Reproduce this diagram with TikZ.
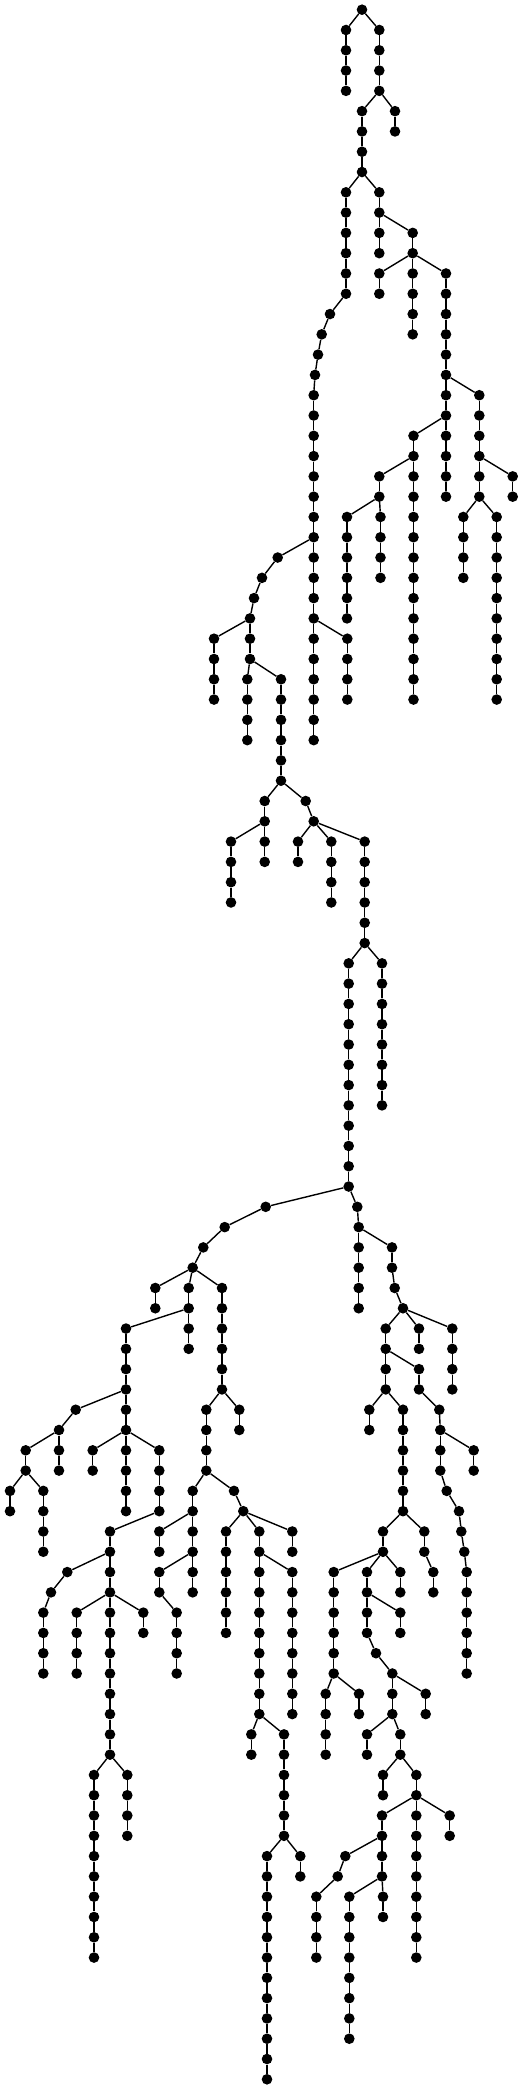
\documentclass[tikz,border=0pt]{standalone}
\usetikzlibrary{positioning}
\tikzset{vert/.style={circle, fill=black, minimum size=10.6pt, inner sep=0pt}}
\tikzset{link/.style={line width=1.4pt}}
\begin{document}
\begin{tikzpicture}[x=1pt, y=-20.29pt]
\useasboundingbox (0,-0.478) rectangle (523,102.38);

\node[vert] (r-0) at (362,0) {};

% chains: name/x/first level/last level/parent
\foreach \c/\x/\a/\b/\p in {
 A/346/1/4/r-0, B/379.3/1/4/r-0, C/362/5/8/B-4, D/395/5/6/B-4,
 E/346/9/14/C-8, F/379.3/9/12/C-8, G/412.7/11/12/F-10,
 H/379.3/13/14/G-12, I/412.7/13/16/G-12, J/446/13/24/G-12,
 K/479.3/19/24/J-18, L/512.7/23/24/K-22, M/463.3/25/28/K-24, N/496.7/25/34/K-24,
 O/413.5/21/34/J-20, P/379.3/23/24/O-22, Q/347/25/30/P-24, R/380.5/25/28/P-24,
 Ea/330/15/15/E-14, Eb/321.7/16/16/Ea-15, Ec/318/17/17/Eb-16, Ed/315/18/18/Ec-17,
 S/313.7/19/36/Ed-18, T/347.3/31/34/S-30,
 Ua/277.7/27/27/S-26, Ub/262/28/28/Ua-27, Uc/254/29/29/Ub-28, V/250/30/32/Uc-29,
 W/214/31/34/V-30, X/247.3/33/36/V-32, Y/281/33/38/V-32,
 Z/264.7/39/40/Y-38, Za/231/41/44/Z-40, Zb/264.7/41/42/Z-40,
 Ya/305.7/39/39/Y-38, Yb/313.7/40/40/Ya-39,
 AA/298/41/42/Yb-40, AB/331.3/41/44/Yb-40, AC/364.7/41/46/Yb-40,
 AD/382/47/54/AC-46, AE/348.7/47/58/AC-46,
 BA/265.7/59/59/AE-58, BB/224.7/60/60/BA-59, BC/203.3/61/61/BB-60, BD/192.7/62/62/BC-61,
 BE/155.3/63/64/BD-62, BF/188.7/63/66/BD-62, BG/126/65/74/BF-64,
 BH/75.7/69/69/BG-68, BI/59/70/72/BH-69, BJ/25.7/71/72/BI-70,
 BK/10/73/74/BJ-72, BL/43.3/73/76/BJ-72,
 BM/92.7/71/72/BG-70, BN/159.3/71/74/BG-70, BO/110/75/86/BN-74,
 BP/67.3/77/77/BO-76, BQ/51/78/78/BP-77, BR/43.3/79/82/BQ-78,
 BS/76.7/79/82/BO-78, BT/143.3/79/80/BO-78,
 BU/94/87/96/BO-86, BV/127.3/87/90/BO-86,
 CA/222/63/68/BD-62, CB/239.3/69/70/CA-68, CC/206.3/69/72/CA-68,
 CD/192.7/73/78/CC-72, CE/159.3/75/76/CD-74, CF/159.3/77/78/CD-76, CG/176.7/79/82/CF-78,
 CH/234/73/73/CC-72, CI/243.3/74/74/CH-73,
 CJ/226/75/80/CI-74, CK/259.3/75/84/CI-74, CL/292.3/75/76/CI-74,
 CM/292.3/77/84/CK-76, CN/251.3/85/86/CK-84, CO/284/85/90/CK-84,
 CP/267/91/102/CO-90, CQ/300.3/91/92/CO-90,
 DA/357.3/59/59/AE-58, DB/358.7/60/64/DA-59, DC/392/61/62/DB-60,
 DD/394.7/63/63/DC-62, DE/403/64/64/DD-63,
 DF/385.7/65/68/DE-64, DG/419/65/66/DE-64, DH/452.3/65/68/DE-64,
 DI/419/67/68/DF-66, DJ/439.3/69/69/DI-68, DK/440.3/70/72/DJ-69, DL/473.7/71/72/DK-70,
 DM/446.7/73/73/DK-72, DN/459/74/74/DM-73, DO/461.3/75/75/DN-74,
 DP/464.3/76/76/DO-75, DQ/466.7/77/82/DP-76,
 DR/369.3/69/70/DF-68, DS/403/69/74/DF-68,
 DT/424.3/75/76/DS-74, DU/433.3/77/78/DT-76, DV/383/75/76/DS-74,
 DW/333.7/77/82/DV-76, DX/325.7/83/86/DW-82, DY/359/83/84/DW-82,
 DZ/367/77/80/DV-76, EA/400.3/79/80/DZ-78, EB/400.3/77/78/DV-76,
 EC/376/81/81/DZ-80, ED/392.3/82/84/EC-81, EE/425.7/83/84/ED-82,
 EF/367/85/86/ED-84, EG/400.3/85/86/ED-84,
 EH/383/87/88/EG-86, EI/416.3/87/96/EG-86,
 EJ/449.7/89/90/EI-88, EK/382/89/92/EI-88,
 EL/345.3/91/91/EK-90, EM/337.7/92/92/EL-91, EN/316.3/93/96/EM-92,
 EO/349.3/93/100/EK-92, EP/383/93/94/EK-92}
{
  \foreach \l in {\a,...,\b} {
    \node[vert] (\c-\l) at (\x,\l) {};
    \ifnum\l=\a
      \draw[link] (\p) -- (\c-\l);
    \else
      \pgfmathtruncatemacro\prv{\l-1}
      \draw[link] (\c-\prv) -- (\c-\l);
    \fi
  }
}
\end{tikzpicture}
\end{document}
